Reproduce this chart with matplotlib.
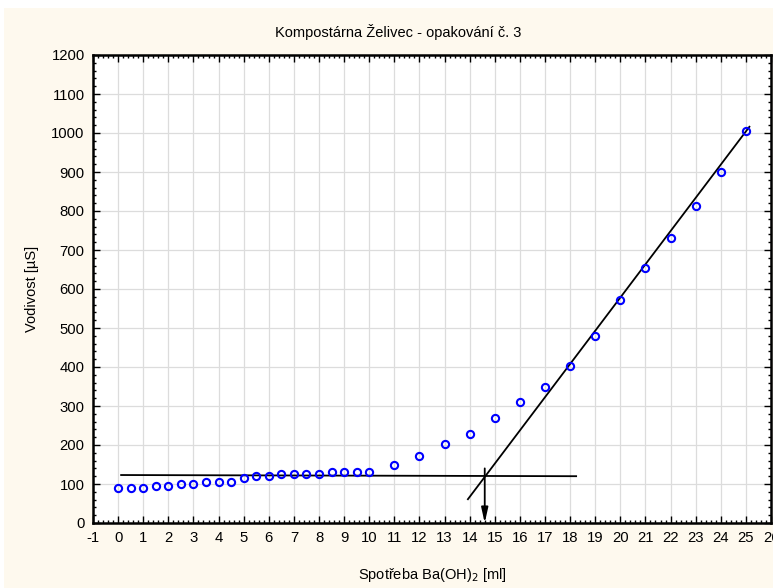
import matplotlib.pyplot as plt
from matplotlib.ticker import MultipleLocator

plt.rcParams['font.family'] = ['Liberation Sans', 'DejaVu Sans']
plt.rcParams['axes.unicode_minus'] = False

# titrace - spotreba Ba(OH)2 vs. vodivost
spotreba = [0, 0.5, 1, 1.5, 2, 2.5, 3, 3.5, 4, 4.5, 5, 5.5, 6, 6.5, 7, 7.5, 8, 8.5, 9, 9.5, 10,
            11, 12, 13, 14, 15, 16, 17, 18, 19, 20, 21, 22, 23, 24, 25]
vodivost = [90, 90, 90, 95, 95, 100, 100, 105, 105, 105, 115, 120, 120, 125, 125, 125, 125, 130, 130, 130, 130,
            150, 171, 202, 227, 268, 309, 350, 402, 479, 572, 655, 732, 814, 901, 1004]

# primky pro odecet bodu ekvivalence
zaklad_x = [0.12, 18.24]
zaklad_y = [123, 120]
strma_x = [13.93, 25.14]
strma_y = [61, 1016]
ekviv_x = 14.6
ekviv_y = 140

fig = plt.figure(figsize=(7.73, 5.88), dpi=100)
fig.patch.set_facecolor('white')
bg = plt.Rectangle((4 / 773, 0), 1, 1 - 8 / 588, transform=fig.transFigure,
                   facecolor='#fef9ee', edgecolor='none', zorder=-10)
fig.patches.append(bg)

ax = fig.add_axes([93 / 773, 1 - 523 / 588, 678 / 773, 468 / 588])
ax.set_facecolor('white')

ax.plot(zaklad_x, zaklad_y, color='black', lw=1.3, zorder=3)
ax.plot(strma_x, strma_y, color='black', lw=1.3, zorder=3)
ax.annotate('', xy=(ekviv_x, 0), xytext=(ekviv_x, ekviv_y),
            arrowprops=dict(arrowstyle='-|>,head_length=0.9,head_width=0.2', color='black', lw=1.3,
                            shrinkA=0, shrinkB=0), zorder=4)
ax.plot(spotreba, vodivost, 'o', mfc='none', mec='#0000ff', mew=1.5, ms=5.2, zorder=5)

ax.set_xlim(-1, 26)
ax.set_ylim(0, 1200)
ax.xaxis.set_major_locator(MultipleLocator(1))
ax.xaxis.set_minor_locator(MultipleLocator(0.2))
ax.yaxis.set_major_locator(MultipleLocator(100))
ax.yaxis.set_minor_locator(MultipleLocator(20))
ax.grid(True, which='major', color='#dcdcdc', lw=0.9, zorder=0)
ax.set_axisbelow(True)
ax.tick_params(which='both', direction='in', top=True, right=True, colors='black',
               labelsize=10.7, width=1)
ax.tick_params(which='major', length=5, pad=6)
ax.tick_params(which='minor', length=2)
for s in ax.spines.values():
    s.set_linewidth(1.8)

ax.set_xlabel('Spotřeba Ba(OH)$_2$ [ml]', fontsize=10.5, labelpad=15)
ax.set_ylabel('Vodivost [µS]', fontsize=10.5, labelpad=9)
fig.text(398 / 773, 1 - 32 / 588, 'Kompostárna Želivec - opakování č. 3',
         ha='center', va='center', fontsize=10.5)

fig.savefig('out.png', dpi=100)
